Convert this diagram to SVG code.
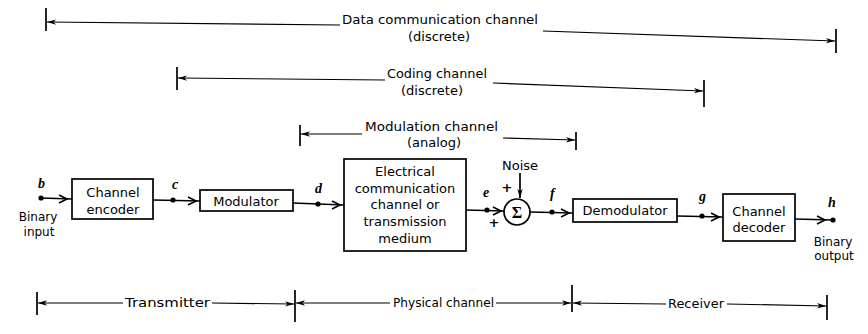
<svg xmlns="http://www.w3.org/2000/svg" xmlns:xlink="http://www.w3.org/1999/xlink" width="868" height="334" viewBox="0 0 868 334">
<style>
.box{fill:#fff;stroke:#000;stroke-width:1.7}
.ln{fill:none;stroke:#000;stroke-width:1.7}
.dim{fill:none;stroke:#000;stroke-width:1.2}
.bar{fill:none;stroke:#000;stroke-width:1.7}
.t{font-family:"DejaVu Sans",sans-serif;font-size:13px;fill:#000}
.s{font-size:12px}
.m{text-anchor:middle}
.v{font-family:"Liberation Serif",serif;font-style:italic;font-weight:bold;font-size:14px;fill:#000}
.chev{fill:none;stroke:#000;stroke-width:1.6}
.dot{fill:#000}
</style>
<defs>
<marker id="da" viewBox="0 0 9 6" refX="9" refY="3" markerWidth="9" markerHeight="6" markerUnits="userSpaceOnUse" orient="auto-start-reverse">
<path d="M0,0.3 L9,3 L0,5.7 L2.5,3 z" fill="#000"/>
</marker>
<path id="chev" d="M-8,-4 L0,0 L-8,4"/>
</defs>
<rect width="868" height="334" fill="#fff"/>

<g id="connectors">
<line class="ln" x1="41" y1="198" x2="72" y2="199"/>
<use xlink:href="#chev" class="chev" x="67" y="199"/>
<line class="ln" x1="153" y1="200" x2="200" y2="201"/>
<use xlink:href="#chev" class="chev" x="196" y="201"/>
<line class="ln" x1="293" y1="203" x2="344" y2="205"/>
<use xlink:href="#chev" class="chev" x="340" y="205"/>
<line class="ln" x1="466" y1="210" x2="504" y2="211"/>
<use xlink:href="#chev" class="chev" x="501" y="211"/>
<line class="ln" x1="530" y1="212" x2="573" y2="213"/>
<use xlink:href="#chev" class="chev" x="569" y="213"/>
<line class="ln" x1="677" y1="216" x2="723" y2="217"/>
<use xlink:href="#chev" class="chev" x="719" y="217"/>
<line class="ln" x1="795" y1="219" x2="833" y2="220"/>
<use xlink:href="#chev" class="chev" x="825" y="220"/>
<line class="ln" x1="520" y1="173" x2="520" y2="198" marker-end="url(#da)"/>
<circle class="dot" cx="41" cy="198" r="2.6"/>
<circle class="dot" cx="173" cy="200" r="2.6"/>
<circle class="dot" cx="318" cy="204" r="2.6"/>
<circle class="dot" cx="487" cy="210" r="2.6"/>
<circle class="dot" cx="552" cy="212" r="2.6"/>
<circle class="dot" cx="702" cy="216" r="2.6"/>
<circle class="dot" cx="833" cy="220" r="2.6"/>

<line class="bar" x1="46" y1="8" x2="46" y2="31"/>
<line class="dim" x1="47" y1="22" x2="340" y2="25" marker-start="url(#da)"/>
<line class="dim" x1="543" y1="31" x2="835" y2="41" marker-end="url(#da)"/>
<line class="bar" x1="836" y1="29" x2="836" y2="53"/>
<line class="bar" x1="177" y1="67" x2="177" y2="90"/>
<line class="dim" x1="178" y1="78" x2="385" y2="80" marker-start="url(#da)"/>
<line class="dim" x1="493" y1="83" x2="703" y2="91" marker-end="url(#da)"/>
<line class="bar" x1="704" y1="80" x2="704" y2="107"/>
<line class="bar" x1="300" y1="125" x2="300" y2="146"/>
<line class="dim" x1="301" y1="134" x2="362" y2="134" marker-start="url(#da)"/>
<line class="dim" x1="503" y1="138" x2="575" y2="140" marker-end="url(#da)"/>
<line class="bar" x1="576" y1="132" x2="576" y2="150"/>
<line class="bar" x1="37" y1="292" x2="37" y2="315"/>
<line class="dim" x1="38" y1="303" x2="123" y2="303" marker-start="url(#da)"/>
<line class="dim" x1="212" y1="303" x2="294" y2="304" marker-end="url(#da)"/>
<line class="bar" x1="295" y1="290" x2="295" y2="322"/>
<line class="dim" x1="296" y1="303" x2="390" y2="303" marker-start="url(#da)"/>
<line class="dim" x1="496" y1="303" x2="571" y2="303" marker-end="url(#da)"/>
<line class="bar" x1="572" y1="285" x2="572" y2="312"/>
<line class="dim" x1="573" y1="303" x2="666" y2="304" marker-start="url(#da)"/>
<line class="dim" x1="727" y1="304" x2="826" y2="306" marker-end="url(#da)"/>
<line class="bar" x1="827" y1="295" x2="827" y2="320"/>
</g>

<g id="dim-labels">
<text class="t" x="342" y="24" textLength="196" lengthAdjust="spacingAndGlyphs">Data communication channel</text>
<text class="t m" x="439" y="41">(discrete)</text>
<text class="t" x="387" y="78" textLength="100" lengthAdjust="spacingAndGlyphs">Coding channel</text>
<text class="t m" x="432" y="95">(discrete)</text>
<text class="t" x="365" y="131" textLength="133" lengthAdjust="spacingAndGlyphs">Modulation channel</text>
<text class="t m" x="434" y="147">(analog)</text>
<text class="t" x="125" y="307" textLength="85" lengthAdjust="spacingAndGlyphs">Transmitter</text>
<text class="t" x="393" y="307" textLength="101" lengthAdjust="spacingAndGlyphs">Physical channel</text>
<text class="t" x="668" y="308" textLength="56" lengthAdjust="spacingAndGlyphs">Receiver</text>
</g>

<g id="node-b">
<text class="v" x="38" y="188">b</text>
<text class="t s m" x="38" y="221">Binary</text>
<text class="t s m" x="39" y="236">input</text>
</g>
<g id="node-encoder">
<rect class="box" x="72" y="179" width="81" height="40"/>
<text class="t m" x="113" y="197">Channel</text>
<text class="t m" x="113" y="214">encoder</text>
</g>
<g id="node-c"><text class="v" x="172" y="189">c</text></g>
<g id="node-modulator">
<rect class="box" x="200" y="190" width="93" height="21"/>
<text class="t m" x="246" y="206">Modulator</text>
</g>
<g id="node-d"><text class="v" x="315" y="193">d</text></g>
<g id="node-channel">
<rect class="box" x="344" y="159" width="122" height="92"/>
<text class="t m" x="405" y="176">Electrical</text>
<text class="t m" x="405" y="193">communication</text>
<text class="t m" x="405" y="209">channel or</text>
<text class="t m" x="405" y="226">transmission</text>
<text class="t m" x="405" y="243">medium</text>
</g>
<g id="node-e"><text class="v" x="483" y="197">e</text></g>
<g id="node-sum">
<circle class="box" cx="517" cy="212" r="13"/>
<text x="517" y="217.5" text-anchor="middle" style="font-family:'Liberation Serif',serif;font-weight:bold;font-size:16px">Σ</text>
<text class="t m" x="520" y="170">Noise</text>
<text class="t m" x="507" y="192" style="font-weight:bold">+</text>
<text class="t m" x="494" y="227" style="font-weight:bold">+</text>
</g>
<g id="node-f"><text class="v" x="550" y="198">f</text></g>
<g id="node-demodulator">
<rect class="box" x="573" y="199" width="104" height="23"/>
<text class="t m" x="625" y="215">Demodulator</text>
</g>
<g id="node-g"><text class="v" x="699" y="201">g</text></g>
<g id="node-decoder">
<rect class="box" x="723" y="194" width="72" height="47"/>
<text class="t m" x="759" y="216">Channel</text>
<text class="t m" x="759" y="232">decoder</text>
</g>
<g id="node-h">
<text class="v" x="828" y="207">h</text>
<text class="t s m" x="833" y="246">Binary</text>
<text class="t s m" x="834" y="260">output</text>
</g>
</svg>
